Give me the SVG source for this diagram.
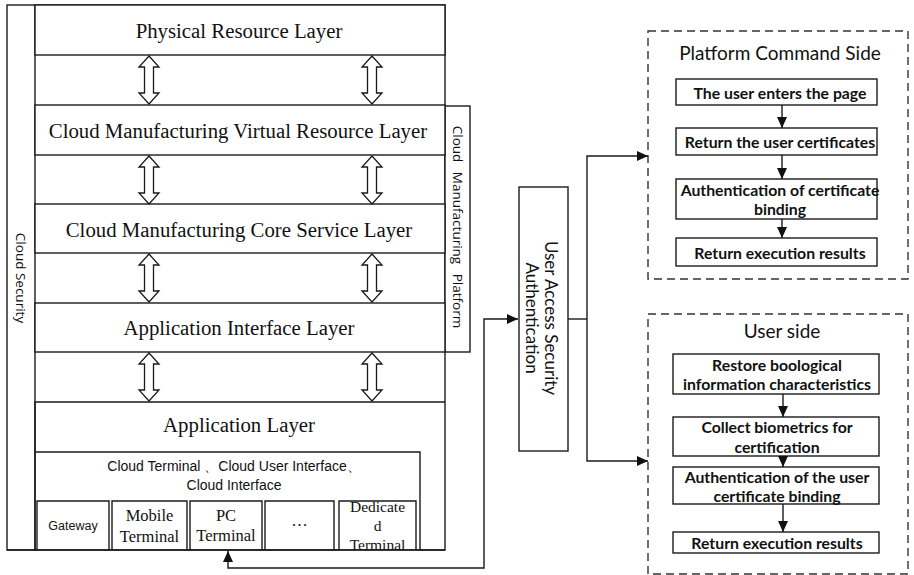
<svg xmlns="http://www.w3.org/2000/svg" width="914" height="575" viewBox="0 0 914 575">
  <style>
    .box { fill: #fff; stroke: #1a1a1a; stroke-width: 1.4; }
    .dash { fill: none; stroke: #333; stroke-width: 1.4; stroke-dasharray: 8 5; }
    .line { fill: none; stroke: #1a1a1a; stroke-width: 1.4; }
    .dbl { fill: #fff; stroke: #1a1a1a; stroke-width: 1.3; }
    .serif { font-family: "Liberation Serif", "Times New Roman", serif; fill: #111; }
    .sans { font-family: "Liberation Sans", Arial, sans-serif; fill: #111; }
    .open { font-family: "Open Sans", "Liberation Sans", sans-serif; fill: #111; }
    .lato { font-family: Lato, "Liberation Sans", sans-serif; fill: #111; }
    .layer { font-size: 20.8px; text-anchor: middle; dominant-baseline: central; }
    .step { font-size: 15.8px; font-weight: bold; text-anchor: middle; dominant-baseline: central; }
    .title { font-size: 19px; text-anchor: middle; dominant-baseline: central; }
    .term { font-size: 16.5px; text-anchor: middle; dominant-baseline: central; }
  </style>
  <defs>
    <marker id="arr" markerUnits="userSpaceOnUse" markerWidth="12" markerHeight="10" refX="11" refY="5" orient="auto-start-reverse">
      <path d="M0,0 L11,5 L0,10 Z" fill="#111"/>
    </marker>
    <!-- hollow double-headed arrow, 50px tall, centred on x=0 -->
    <path id="dblArrow" class="dbl" d="M0,1 L10,12 L4.5,12 L4.5,38 L10,38 L0,49 L-10,38 L-4.5,38 L-4.5,12 L-10,12 Z"/>
  </defs>

  <rect width="914" height="575" fill="#fff"/>

  <!-- Cloud Security frame -->
  <g id="cloud-security">
    <rect class="box" x="7" y="5" width="438" height="545"/>
    <line class="line" x1="35" y1="5" x2="35" y2="550"/>
    <text class="open" font-size="13.5" text-anchor="middle" dominant-baseline="central" transform="translate(21,278) rotate(90)">Cloud Security</text>
  </g>

  <!-- Cloud Manufacturing Platform side bar -->
  <g id="cloud-platform">
    <rect class="box" x="445" y="106" width="25" height="246"/>
    <text class="open" font-size="13.5" text-anchor="middle" dominant-baseline="central" word-spacing="6" transform="translate(457.5,227) rotate(90)">Cloud Manufacturing Platform</text>
  </g>

  <g id="physical-layer">
    <rect class="box" x="35" y="5" width="410" height="50"/>
    <text class="serif layer" x="239" y="30">Physical Resource Layer</text>
  </g>

  <g id="virtual-layer">
    <rect class="box" x="35" y="105" width="410" height="50"/>
    <text class="serif layer" x="238" y="130">Cloud Manufacturing Virtual Resource Layer</text>
  </g>

  <g id="core-layer">
    <rect class="box" x="35" y="204" width="410" height="49"/>
    <text class="serif layer" x="239" y="229">Cloud Manufacturing Core Service Layer</text>
  </g>

  <g id="interface-layer">
    <rect class="box" x="35" y="303" width="410" height="49"/>
    <text class="serif layer" x="239" y="327">Application Interface Layer</text>
  </g>

  <g id="application-layer">
    <path class="line" d="M35,550 V402 H445"/>
    <text class="serif layer" x="239" y="424">Application Layer</text>
    <path class="line" d="M35,452 H420 V550"/>
    <text class="sans" font-size="14" text-anchor="middle" x="234" y="471">Cloud Terminal 、Cloud User Interface、</text>
    <text class="sans" font-size="14" text-anchor="middle" x="234" y="490">Cloud Interface</text>
  </g>

  <g id="terminal-gateway">
    <path class="line" d="M37,550 V501 H109 V550"/>
    <text class="sans" font-size="12.5" text-anchor="middle" dominant-baseline="central" x="73" y="526">Gateway</text>
  </g>
  <g id="terminal-mobile">
    <path class="line" d="M112,550 V501 H187 V550"/>
    <text class="serif term" x="149.5" y="515">Mobile</text>
    <text class="serif term" x="149.5" y="536">Terminal</text>
  </g>
  <g id="terminal-pc">
    <path class="line" d="M190,550 V501 H262 V550"/>
    <text class="serif term" x="226" y="515">PC</text>
    <text class="serif term" x="226" y="535">Terminal</text>
  </g>
  <g id="terminal-more">
    <path class="line" d="M265,550 V501 H334 V550"/>
    <text class="serif term" x="299.5" y="525">···</text>
  </g>
  <g id="terminal-dedicated">
    <path class="line" d="M339,550 V501 H416 V550"/>
    <text class="serif" font-size="15.5" text-anchor="middle" x="377.5" y="512">Dedicate</text>
    <text class="serif" font-size="15.5" text-anchor="middle" x="377.5" y="531">d</text>
    <text class="serif" font-size="15.5" text-anchor="middle" x="377.5" y="550">Terminal</text>
  </g>
  <!-- clip the bottom of the outer frame over terminal text -->
  <rect x="338" y="550.7" width="80" height="10" fill="#fff"/>
  <line class="line" x1="7" y1="550" x2="445" y2="550"/>

  <!-- double arrows between layers -->
  <g id="layer-links">
    <use href="#dblArrow" x="149" y="55"/>
    <use href="#dblArrow" x="372" y="55"/>
    <use href="#dblArrow" x="149" y="155"/>
    <use href="#dblArrow" x="372" y="155"/>
    <use href="#dblArrow" x="149" y="253"/>
    <use href="#dblArrow" x="372" y="253"/>
    <use href="#dblArrow" x="149" y="352"/>
    <use href="#dblArrow" x="372" y="352"/>
  </g>

  <g id="user-access">
    <rect class="box" x="519" y="187" width="49" height="264"/>
    <text class="lato" font-size="17" text-anchor="middle" dominant-baseline="central" transform="translate(551,318) rotate(90)">User Access Security</text>
    <text class="lato" font-size="17" text-anchor="middle" dominant-baseline="central" transform="translate(532,318) rotate(90)">Authentication</text>
  </g>

  <g id="platform-side">
    <rect class="dash" x="648" y="31" width="260" height="248"/>
    <text class="lato title" x="780" y="52">Platform Command Side</text>
    <rect class="box" x="676" y="79" width="201" height="26"/>
    <text class="lato step" x="780" y="92">The user enters the page</text>
    <rect class="box" x="676" y="128" width="201" height="27"/>
    <text class="lato step" x="780" y="141.5">Return the user certificates</text>
    <rect class="box" x="676" y="179" width="201" height="40"/>
    <text class="lato step" x="780" y="189.5">Authentication of certificate</text>
    <text class="lato step" x="780" y="208.5">binding</text>
    <rect class="box" x="676" y="238" width="201" height="28"/>
    <text class="lato step" x="780" y="252">Return execution results</text>
  </g>

  <g id="user-side">
    <rect class="dash" x="648" y="314" width="260" height="260"/>
    <text class="lato title" x="782" y="330">User side</text>
    <rect class="box" x="673" y="354" width="206" height="40"/>
    <text class="lato step" x="777" y="364.5">Restore boological</text>
    <text class="lato step" x="777" y="383.5">information characteristics</text>
    <rect class="box" x="673" y="417" width="206" height="39"/>
    <text class="lato step" x="777" y="426.5">Collect biometrics for</text>
    <text class="lato step" x="777" y="446">certification</text>
    <rect class="box" x="673" y="467" width="206" height="37"/>
    <text class="lato step" x="777" y="476.5">Authentication of the user</text>
    <text class="lato step" x="777" y="495">certificate binding</text>
    <rect class="box" x="673" y="532" width="206" height="21"/>
    <text class="lato step" x="777" y="542.5">Return execution results</text>
  </g>

  <g id="connectors">
    <path class="line" d="M228,551 V568 H484 V319 H518" marker-start="url(#arr)" marker-end="url(#arr)"/>
    <path class="line" d="M568,319 H587"/>
    <path class="line" d="M648,156 H587 V461 H648" marker-start="url(#arr)" marker-end="url(#arr)"/>
    <path class="line" d="M782,105 V128" marker-end="url(#arr)"/>
    <path class="line" d="M782,155 V179" marker-end="url(#arr)"/>
    <path class="line" d="M782,219 V238" marker-end="url(#arr)"/>
    <path class="line" d="M783,394 V417" marker-end="url(#arr)"/>
    <path class="line" d="M783,456 V467" marker-end="url(#arr)"/>
    <path class="line" d="M783,504 V532" marker-end="url(#arr)"/>
  </g>
</svg>
